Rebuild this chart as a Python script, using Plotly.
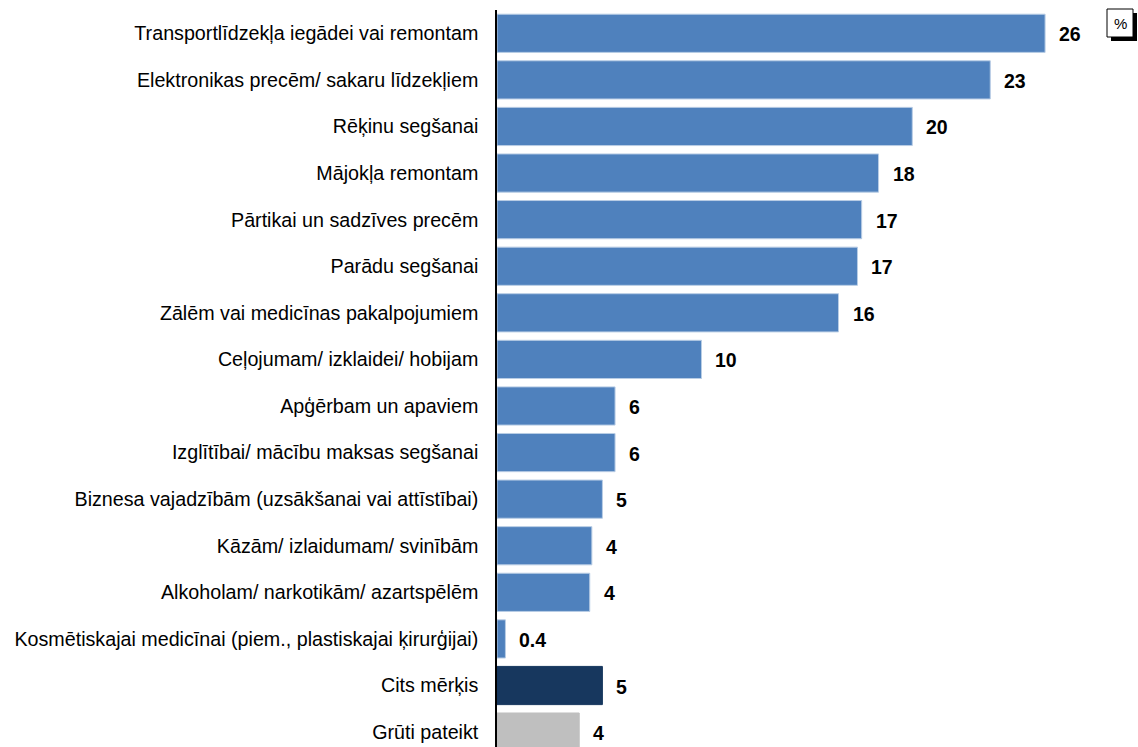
import plotly.graph_objects as go

categories = [
    "Transportlīdzekļa iegādei vai remontam",
    "Elektronikas precēm/ sakaru līdzekļiem",
    "Rēķinu segšanai",
    "Mājokļa remontam",
    "Pārtikai un sadzīves precēm",
    "Parādu segšanai",
    "Zālēm vai medicīnas pakalpojumiem",
    "Ceļojumam/ izklaidei/ hobijam",
    "Apģērbam un apaviem",
    "Izglītībai/ mācību maksas segšanai",
    "Biznesa vajadzībām (uzsākšanai vai attīstībai)",
    "Kāzām/ izlaidumam/ svinībām",
    "Alkoholam/ narkotikām/ azartspēlēm",
    "Kosmētiskajai medicīnai (piem., plastiskajai ķirurģijai)",
    "Cits mērķis",
    "Grūti pateikt",
]
values = [26.0, 23.4, 19.7, 18.1, 17.3, 17.1, 16.2, 9.7, 5.6, 5.6, 5.0, 4.5, 4.4, 0.4, 5.0, 3.9]
value_labels = ["26", "23", "20", "18", "17", "17", "16", "10", "6", "6", "5", "4", "4", "0.4", "5", "4"]
bar_colors = ["#4F81BD"] * 14 + ["#17375E", "#BFBFBF"]
line_colors = ["#B9CDE5"] * 14 + ["#17375E", "#BFBFBF"]

FONT = "Liberation Sans, Arial, sans-serif"

fig = go.Figure()
fig.add_trace(go.Bar(
    x=values, y=categories, orientation="h",
    marker=dict(color=bar_colors, line=dict(color=line_colors, width=1)),
    width=0.82, hoverinfo="skip",
))

for cat, v, lab in zip(categories, values, value_labels):
    fig.add_annotation(x=v, y=cat, text=f"<b>{lab}</b>", showarrow=False,
                       xanchor="left", xshift=12, yshift=-1,
                       font=dict(family=FONT, size=19.5, color="#000000"))

# % box with shadow
fig.add_shape(type="rect", xref="paper", yref="paper",
              x0=(1111 - 497) / 603, x1=(1137 - 497) / 603,
              y0=(747 - 41) / 737, y1=(747 - 13) / 737,
              fillcolor="#000000", line=dict(width=0), layer="above")
fig.add_shape(type="rect", xref="paper", yref="paper",
              x0=(1107 - 497) / 603, x1=(1133 - 497) / 603,
              y0=(747 - 37) / 737, y1=(747 - 9) / 737,
              fillcolor="#FFFFFF", line=dict(color="#000000", width=1), layer="above")
fig.add_annotation(xref="paper", yref="paper", x=(1120 - 497) / 603, y=(747 - 23) / 737,
                   text="%", showarrow=False, xanchor="center", yanchor="middle",
                   font=dict(family=FONT, size=15, color="#000000"))

fig.update_layout(
    width=1138, height=747,
    margin=dict(l=497, r=38, t=10, b=0),
    paper_bgcolor="white", plot_bgcolor="white",
    showlegend=False,
    font=dict(family=FONT, size=19.7, color="#000000"),
    xaxis=dict(range=[0, 603 / 21.08], visible=False, fixedrange=True),
    yaxis=dict(
        type="category", categoryorder="array", categoryarray=categories,
        range=[15.32, -0.5],
        showline=True, linecolor="#000000", linewidth=1.5,
        showgrid=False, ticks="", ticklabelstandoff=13,
        tickfont=dict(family=FONT, size=19.7, color="#000000"),
        fixedrange=True,
    ),
)

fig.write_html("out.html", config={"displayModeBar": False},
               post_script="document.body.style.margin='0';document.body.style.padding='0';")
